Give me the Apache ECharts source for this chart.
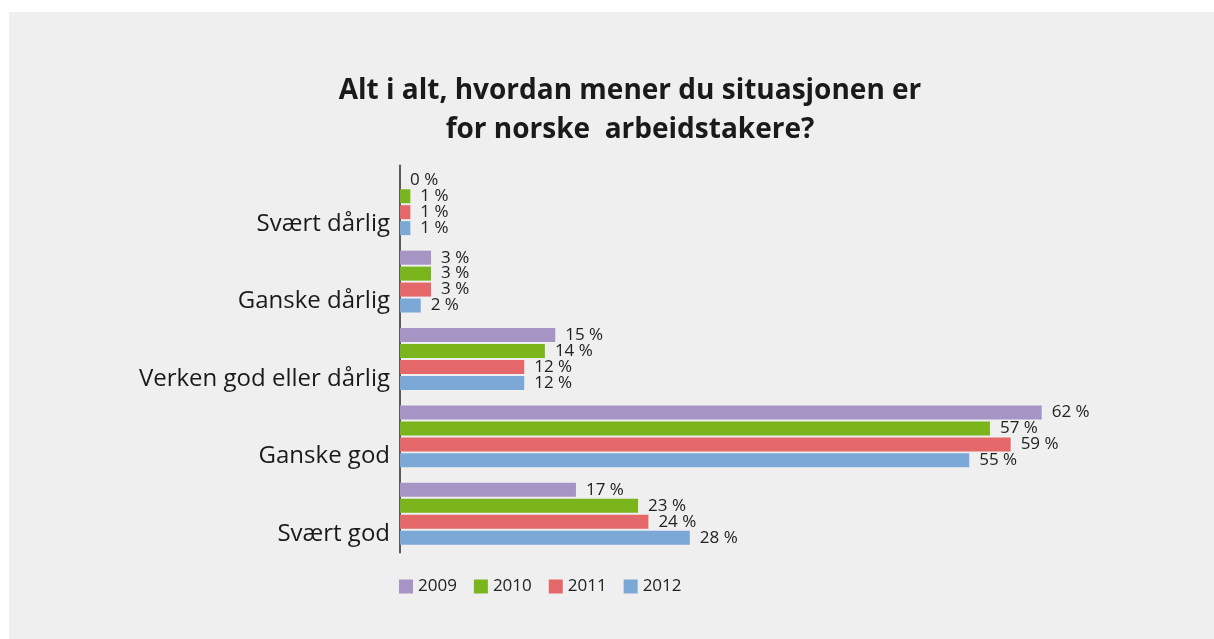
<!DOCTYPE html>
<html>
<head>
<meta charset="utf-8">
<script src="https://cdn.jsdelivr.net/npm/echarts@6/dist/echarts.min.js"></script>
<style>
html, body { margin: 0; padding: 0; background: #fff; }
#chart { width: 1214px; height: 639px; }
</style>
</head>
<body>
<div id="chart"></div>
<script>
'use strict';
// kategorier (ovenfra og ned)
const categories = ['Svært dårlig', 'Ganske dårlig', 'Verken god eller dårlig', 'Ganske god', 'Svært god'];
const years = ['2009', '2010', '2011', '2012'];
const values2009 = [0, 3, 15, 62, 17];
const values2010 = [1, 3, 14, 57, 23];
const values2011 = [1, 3, 12, 59, 24];
const values2012 = [1, 2, 12, 55, 28];
const colors = ['#a694c5', '#7bb51e', '#e4676a', '#7ba8d6'];

const FONT = 'Open Sans';

function makeSeries(name, data, color) {
    return {
        name: name,
        type: 'bar',
        data: data,
        barWidth: 14,
        barGap: '14%',
        itemStyle: { color: color },
        label: {
            show: true,
            position: 'right',
            distance: 10,
            formatter: '{c} %',
            color: '#222',
            fontFamily: FONT,
            fontSize: 17,
        },
    };
}

function init() {
    const chart = echarts.init(document.getElementById('chart'));
    const option = {
        backgroundColor: '#fff',
        animation: false,
        graphic: [
            {
                type: 'rect',
                z: -10,
                silent: true,
                shape: { x: 9, y: 12, width: 1214, height: 639 },
                style: { fill: '#efefef' },
            },
        ],
        title: {
            text: 'Alt i alt, hvordan mener du situasjonen er\nfor norske  arbeidstakere?',
            left: 630,
            textAlign: 'center',
            top: 72,
            padding: 0,
            textStyle: {
                fontFamily: FONT,
                fontWeight: 'bold',
                fontSize: 28,
                lineHeight: 39,
                color: '#1a1a1a',
            },
        },
        legend: {
            data: years,
            left: 394,
            top: 573,
            icon: 'rect',
            itemWidth: 14,
            itemHeight: 14,
            itemGap: 17,
            textStyle: { fontFamily: FONT, fontSize: 17, color: '#222' },
        },
        grid: {
            left: 400,
            top: 165.5,
            bottom: 86.5,
            right: 89.5,
            containLabel: false,
        },
        xAxis: {
            type: 'value',
            min: 0,
            max: 70,
            show: false,
        },
        yAxis: {
            type: 'category',
            inverse: true,
            data: categories,
            axisLine: { show: true, lineStyle: { color: '#5a5a5a', width: 2 } },
            axisTick: { show: false },
            axisLabel: {
                margin: 10,
                verticalAlign: 'top',
                lineHeight: 40,
                fontFamily: FONT,
                fontSize: 24,
                color: '#1a1a1a',
            },
        },
        series: [
            makeSeries(years[0], values2009, colors[0]),
            makeSeries(years[1], values2010, colors[1]),
            makeSeries(years[2], values2011, colors[2]),
            makeSeries(years[3], values2012, colors[3]),
        ],
    };
    chart.setOption(option);
}

(function () {
    init();
})();
</script>
</body>
</html>
